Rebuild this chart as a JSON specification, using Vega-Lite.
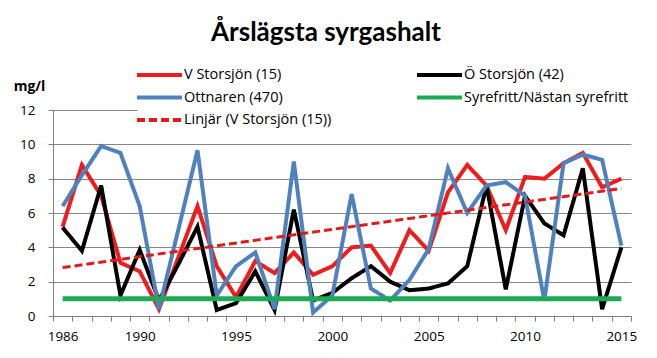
{
  "$schema": "https://vega.github.io/schema/vega-lite/v6.json",
  "width": 578,
  "height": 206,
  "autosize": {"type": "none"},
  "padding": {"left": 53, "top": 110, "right": 26, "bottom": 42},
  "background": "white",
  "title": {"text": "Årslägsta syrgashalt", "font": "Lato", "fontSize": 26, "fontWeight": "bold", "color": "#000000", "anchor": "middle", "dx": -16, "frame": "group", "offset": -14, "baseline": "alphabetic"},
  "datasets": {
    "obs": [
      {"year": 1986, "series": "V Storsjön (15)", "value": 5.2},
      {"year": 1987, "series": "V Storsjön (15)", "value": 8.8},
      {"year": 1988, "series": "V Storsjön (15)", "value": 7.0},
      {"year": 1989, "series": "V Storsjön (15)", "value": 3.1},
      {"year": 1990, "series": "V Storsjön (15)", "value": 2.6},
      {"year": 1991, "series": "V Storsjön (15)", "value": 0.4},
      {"year": 1992, "series": "V Storsjön (15)", "value": 3.4},
      {"year": 1993, "series": "V Storsjön (15)", "value": 6.4},
      {"year": 1994, "series": "V Storsjön (15)", "value": 2.9},
      {"year": 1995, "series": "V Storsjön (15)", "value": 1.1},
      {"year": 1996, "series": "V Storsjön (15)", "value": 3.2},
      {"year": 1997, "series": "V Storsjön (15)", "value": 2.5},
      {"year": 1998, "series": "V Storsjön (15)", "value": 3.7},
      {"year": 1999, "series": "V Storsjön (15)", "value": 2.4},
      {"year": 2000, "series": "V Storsjön (15)", "value": 2.9},
      {"year": 2001, "series": "V Storsjön (15)", "value": 4.0},
      {"year": 2002, "series": "V Storsjön (15)", "value": 4.1},
      {"year": 2003, "series": "V Storsjön (15)", "value": 2.5},
      {"year": 2004, "series": "V Storsjön (15)", "value": 5.0},
      {"year": 2005, "series": "V Storsjön (15)", "value": 3.8},
      {"year": 2006, "series": "V Storsjön (15)", "value": 7.2},
      {"year": 2007, "series": "V Storsjön (15)", "value": 8.8},
      {"year": 2008, "series": "V Storsjön (15)", "value": 7.6},
      {"year": 2009, "series": "V Storsjön (15)", "value": 5.0},
      {"year": 2010, "series": "V Storsjön (15)", "value": 8.1},
      {"year": 2011, "series": "V Storsjön (15)", "value": 8.0},
      {"year": 2012, "series": "V Storsjön (15)", "value": 8.9},
      {"year": 2013, "series": "V Storsjön (15)", "value": 9.5},
      {"year": 2014, "series": "V Storsjön (15)", "value": 7.5},
      {"year": 2015, "series": "V Storsjön (15)", "value": 8.0},
      {"year": 1986, "series": "Ö Storsjön (42)", "value": 5.15},
      {"year": 1987, "series": "Ö Storsjön (42)", "value": 3.8},
      {"year": 1988, "series": "Ö Storsjön (42)", "value": 7.6},
      {"year": 1989, "series": "Ö Storsjön (42)", "value": 1.2},
      {"year": 1990, "series": "Ö Storsjön (42)", "value": 3.85},
      {"year": 1991, "series": "Ö Storsjön (42)", "value": 0.9},
      {"year": 1992, "series": "Ö Storsjön (42)", "value": 3.0},
      {"year": 1993, "series": "Ö Storsjön (42)", "value": 5.2},
      {"year": 1994, "series": "Ö Storsjön (42)", "value": 0.35},
      {"year": 1995, "series": "Ö Storsjön (42)", "value": 0.75},
      {"year": 1996, "series": "Ö Storsjön (42)", "value": 2.6},
      {"year": 1997, "series": "Ö Storsjön (42)", "value": 0.35},
      {"year": 1998, "series": "Ö Storsjön (42)", "value": 6.2},
      {"year": 1999, "series": "Ö Storsjön (42)", "value": 0.9},
      {"year": 2000, "series": "Ö Storsjön (42)", "value": 1.35},
      {"year": 2001, "series": "Ö Storsjön (42)", "value": 2.2},
      {"year": 2002, "series": "Ö Storsjön (42)", "value": 2.9},
      {"year": 2003, "series": "Ö Storsjön (42)", "value": 2.0},
      {"year": 2004, "series": "Ö Storsjön (42)", "value": 1.5},
      {"year": 2005, "series": "Ö Storsjön (42)", "value": 1.6},
      {"year": 2006, "series": "Ö Storsjön (42)", "value": 1.9},
      {"year": 2007, "series": "Ö Storsjön (42)", "value": 2.9},
      {"year": 2008, "series": "Ö Storsjön (42)", "value": 7.6},
      {"year": 2009, "series": "Ö Storsjön (42)", "value": 1.55},
      {"year": 2010, "series": "Ö Storsjön (42)", "value": 7.0},
      {"year": 2011, "series": "Ö Storsjön (42)", "value": 5.4},
      {"year": 2012, "series": "Ö Storsjön (42)", "value": 4.7},
      {"year": 2013, "series": "Ö Storsjön (42)", "value": 8.6},
      {"year": 2014, "series": "Ö Storsjön (42)", "value": 0.4},
      {"year": 2015, "series": "Ö Storsjön (42)", "value": 4.0},
      {"year": 1986, "series": "Ottnaren (470)", "value": 6.4},
      {"year": 1987, "series": "Ottnaren (470)", "value": 8.2},
      {"year": 1988, "series": "Ottnaren (470)", "value": 9.9},
      {"year": 1989, "series": "Ottnaren (470)", "value": 9.5},
      {"year": 1990, "series": "Ottnaren (470)", "value": 6.4},
      {"year": 1991, "series": "Ottnaren (470)", "value": 0.4},
      {"year": 1992, "series": "Ottnaren (470)", "value": 5.0},
      {"year": 1993, "series": "Ottnaren (470)", "value": 9.65},
      {"year": 1994, "series": "Ottnaren (470)", "value": 1.2},
      {"year": 1995, "series": "Ottnaren (470)", "value": 2.9},
      {"year": 1996, "series": "Ottnaren (470)", "value": 3.7},
      {"year": 1997, "series": "Ottnaren (470)", "value": 0.4},
      {"year": 1998, "series": "Ottnaren (470)", "value": 9.0},
      {"year": 1999, "series": "Ottnaren (470)", "value": 0.2},
      {"year": 2000, "series": "Ottnaren (470)", "value": 1.2},
      {"year": 2001, "series": "Ottnaren (470)", "value": 7.1},
      {"year": 2002, "series": "Ottnaren (470)", "value": 1.6},
      {"year": 2003, "series": "Ottnaren (470)", "value": 0.9},
      {"year": 2004, "series": "Ottnaren (470)", "value": 2.1},
      {"year": 2005, "series": "Ottnaren (470)", "value": 3.9},
      {"year": 2006, "series": "Ottnaren (470)", "value": 8.6},
      {"year": 2007, "series": "Ottnaren (470)", "value": 6.0},
      {"year": 2008, "series": "Ottnaren (470)", "value": 7.6},
      {"year": 2009, "series": "Ottnaren (470)", "value": 7.8},
      {"year": 2010, "series": "Ottnaren (470)", "value": 7.0},
      {"year": 2011, "series": "Ottnaren (470)", "value": 0.9},
      {"year": 2012, "series": "Ottnaren (470)", "value": 8.9},
      {"year": 2013, "series": "Ottnaren (470)", "value": 9.4},
      {"year": 2014, "series": "Ottnaren (470)", "value": 9.1},
      {"year": 2015, "series": "Ottnaren (470)", "value": 4.1}
    ],
    "limit": [
      {"year": 1986, "series": "Syrefritt/Nästan syrefritt", "value": 1},
      {"year": 2015, "series": "Syrefritt/Nästan syrefritt", "value": 1}
    ],
    "trend": [
      {"year": 1986, "series": "Linjär (V Storsjön (15))", "value": 2.82},
      {"year": 2015, "series": "Linjär (V Storsjön (15))", "value": 7.43}
    ]
  },
  "encoding": {
    "x": {"field": "year", "type": "quantitative", "scale": {"domain": [1985.5, 2015.5], "nice": false, "zero": false},
      "axis": {"values": [1985.5, 1986.5, 1987.5, 1988.5, 1989.5, 1990.5, 1991.5, 1992.5, 1993.5, 1994.5, 1995.5, 1996.5, 1997.5, 1998.5, 1999.5, 2000.5, 2001.5, 2002.5, 2003.5, 2004.5, 2005.5, 2006.5, 2007.5, 2008.5, 2009.5, 2010.5, 2011.5, 2012.5, 2013.5, 2014.5, 2015.5],
        "labelExpr": "indexof([1985.5, 1989.5, 1994.5, 1999.5, 2004.5, 2009.5, 2014.5], datum.value) >= 0 ? format(datum.value + 0.5, 'd') : ''",
        "labelOffset": 9.6, "labelOverlap": false, "labelBound": false, "labelFlush": false,
        "title": null, "grid": false, "ticks": true, "domainColor": "#7F7F7F", "tickColor": "#7F7F7F", "tickSize": 5, "tickWidth": 1, "labelPadding": 8, "labelFont": "Open Sans", "labelFontSize": 13.5, "labelColor": "#000000"}},
    "y": {"field": "value", "type": "quantitative", "scale": {"domain": [0, 12], "nice": false},
      "axis": {"values": [0, 2, 4, 6, 8, 10, 12], "title": "mg/l", "titleAngle": 0, "titleX": -24, "titleY": -20, "titleAlign": "center", "titleBaseline": "alphabetic", "titleFont": "Open Sans", "titleFontSize": 14, "titleFontWeight": "bold", "titleColor": "#000000",
        "grid": true, "gridColor": "#878787", "gridWidth": 1, "domainColor": "#7F7F7F", "tickColor": "#7F7F7F", "tickSize": 5, "tickWidth": 1, "labelPadding": 13, "labelFont": "Open Sans", "labelFontSize": 13.5, "labelColor": "#000000"}},
    "color": {"field": "series", "type": "nominal", "title": null,
      "scale": {"domain": ["V Storsjön (15)", "Ottnaren (470)", "Linjär (V Storsjön (15))", "Ö Storsjön (42)", "Syrefritt/Nästan syrefritt"],
        "range": ["#EE1C1C", "#4F81BD", "#E01B1B", "#000000", "#1DAA55"]}},
    "strokeDash": {"field": "series", "type": "nominal", "title": null,
      "scale": {"domain": ["V Storsjön (15)", "Ottnaren (470)", "Linjär (V Storsjön (15))", "Ö Storsjön (42)", "Syrefritt/Nästan syrefritt"],
        "range": [[1, 0], [1, 0], [8, 4], [1, 0], [1, 0]]}}
  },
  "layer": [
    {
      "data": {"name": "obs"},
      "mark": {"type": "line", "strokeWidth": 4, "strokeJoin": "miter", "strokeMiterLimit": 4}
    },
    {
      "data": {"name": "limit"},
      "mark": {"type": "line", "strokeWidth": 5},
      "encoding": {}
    },
    {
      "data": {"name": "trend"},
      "mark": {"type": "line", "strokeWidth": 3},
      "encoding": {}
    }
  ],
  "config": {
    "view": {"stroke": null},
    "legend": {
      "orient": "none", "legendX": 84.5, "legendY": -57, "columns": 2, "columnPadding": 77, "rowPadding": 2.5,
      "padding": 10, "fillColor": "white",
      "symbolType": "M-2.25,0H2.25", "symbolSize": 400, "symbolStrokeWidth": 4, "labelOffset": 12.5,
      "labelFont": "Open Sans", "labelFontSize": 14.5, "labelColor": "#000000", "labelLimit": 300
    }
  }
}
